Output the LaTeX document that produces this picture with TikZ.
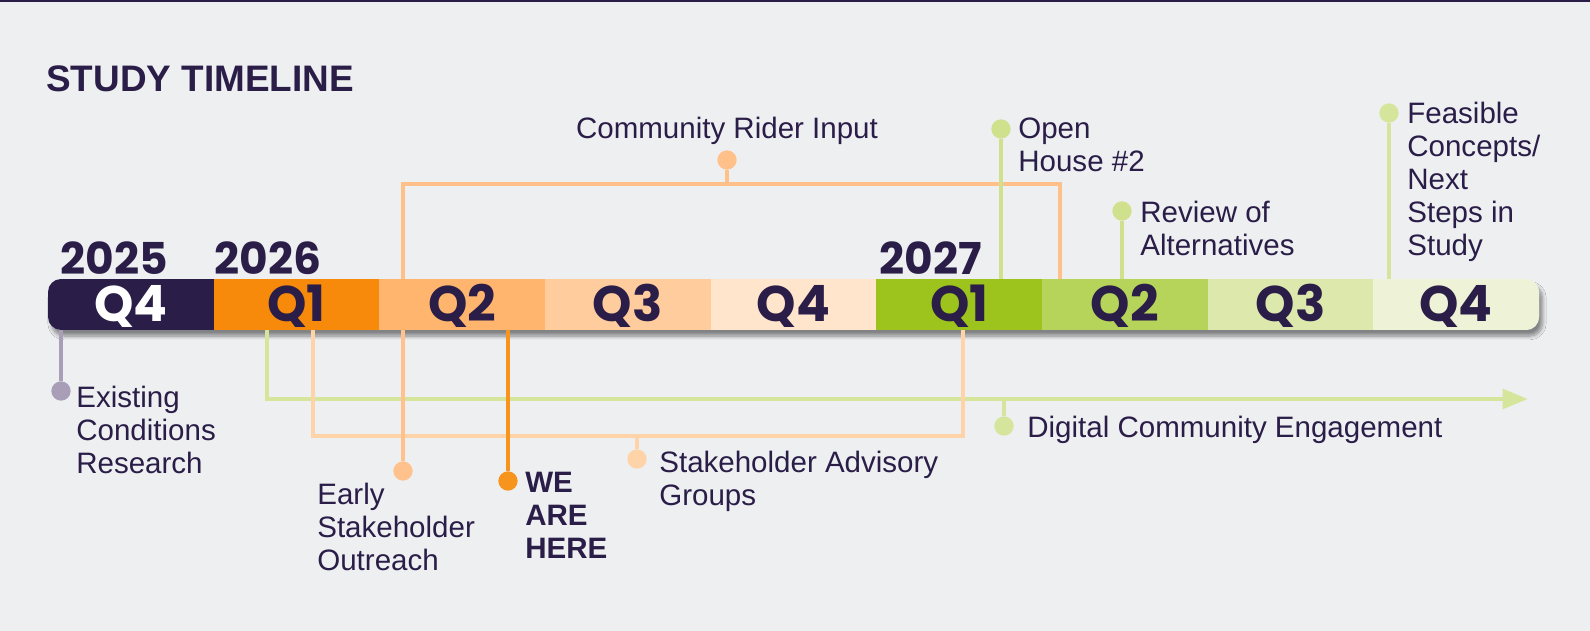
\documentclass[tikz,border=0pt]{standalone}
\usepackage{fontspec}
\setmainfont{Liberation Sans}
\newfontfamily\qfont{Poppins}
\usetikzlibrary{arrows.meta,shadows.blur}

\definecolor{bgcol}{HTML}{EEEFF1}
\definecolor{navy}{HTML}{2A1D47}
\definecolor{segA}{HTML}{2A1D47}
\definecolor{segB}{HTML}{F7890B}
\definecolor{segC}{HTML}{FFB56E}
\definecolor{segD}{HTML}{FFCC9E}
\definecolor{segE}{HTML}{FFE5CC}
\definecolor{segF}{HTML}{9CC41D}
\definecolor{segG}{HTML}{B6D35A}
\definecolor{segH}{HTML}{DDE8AD}
\definecolor{segI}{HTML}{EEF3D7}
\definecolor{exgray}{HTML}{A89EB8}
\definecolor{diggreen}{HTML}{D6E59C}
\definecolor{advorange}{HTML}{FFD3A8}
\definecolor{earlyorange}{HTML}{FFC28C}
\definecolor{hereorange}{HTML}{F7941D}
\definecolor{riderorange}{HTML}{FFC08A}
\definecolor{opengreen}{HTML}{CFE18C}

\tikzset{
  qlab/.style={font=\qfont\bfseries\fontsize{28.5}{28.5}\selectfont, text=navy, inner sep=0pt},
  yearlab/.style={font=\qfont\bfseries\fontsize{25}{25}\selectfont, text=navy, inner sep=0pt},
  lab/.style={font=\fontsize{16.8}{18.7}\selectfont, text=navy, align=left, anchor=north west, inner sep=0pt},
  dot/.style={circle, fill=#1, inner sep=0pt, minimum size=11pt},
  conn/.style={line width=2.3pt},
}

\begin{document}
\begin{tikzpicture}[x=0.02cm, y=-0.02cm]
			%%%%% START %%%%%
			
			\fill[bgcol] (0,0) rectangle (1590,631);
			\useasboundingbox (0,0) rectangle (1590,631);
			\fill[navy] (0,0) rectangle (1590,2);
			
			\node[anchor=west, font=\bfseries\fontsize{21}{21}\selectfont, text=navy, inner sep=0pt] (title) at (46,79) {STUDY TIMELINE};
			
			% bar
			\fill[bgcol, rounded corners=7.4pt, blur shadow={shadow xshift=2pt, shadow yshift=-3.5pt, shadow blur steps=8, shadow opacity=45}] (48,279) rectangle (1539,330);
			\begin{scope}
				\clip[rounded corners=7.4pt] (48,279) rectangle (1539,330);
				\foreach \i/\col in {0/segA,1/segB,2/segC,3/segD,4/segE,5/segF,6/segG,7/segH,8/segI}
					\fill[\col] ({48+\i*165.67},279) rectangle ({48+(\i+1)*165.67+0.5},330);
			\end{scope}
			\foreach \i/\lab/\tc in {0/Q4/white,1/Q1/navy,2/Q2/navy,3/Q3/navy,4/Q4/navy,5/Q1/navy,6/Q2/navy,7/Q3/navy,8/Q4/navy}
				\node[qlab, text=\tc] (seg\i) at ({48+(\i+0.5)*165.67},306) {\lab};
			
			% years
			\node[yearlab] (y2025) at (114,258) {2025};
			\node[yearlab] (y2026) at (268,258) {2026};
			\node[yearlab] (y2027) at (931,258) {2027};
			
			% below the bar
			\coordinate (ex0) at (61,330);
			\node[dot=exgray] (exdot) at (61,391) {};
			\draw[conn, exgray] (ex0) -- (exdot);
			\node[lab] (exlab) at (76,386) {Existing\\Conditions\\Research};
			
			\coordinate (dg0) at (267,330);
			\coordinate (dgend) at (1528,399);
			\draw[line width=2.8pt, diggreen, -{Triangle[length=14.5pt,width=11pt]}] (dg0) |- (dgend);
			\coordinate (dgtap) at (1004,399);
			\node[dot=diggreen] (dgdot) at (1004,426) {};
			\draw[conn, diggreen] (dgtap) -- (dgdot);
			\node[lab] (dglab) at (1027,416) {Digital Community Engagement};
			
			\coordinate (adv0) at (313,330);
			\coordinate (advtap) at (637,436);
			\coordinate (adv3) at (963,330);
			\draw[conn, advorange] (adv0) |- (advtap) -| (adv3);
			\node[dot=advorange] (advdot) at (637,459) {};
			\draw[conn, advorange] (advtap) -- (advdot);
			\node[lab] (advlab) at (659,451) {Stakeholder Advisory\\Groups};
			
			\coordinate (early0) at (403,330);
			\node[dot=earlyorange] (earlydot) at (403,471) {};
			\draw[conn, earlyorange] (early0) -- (earlydot);
			\node[lab] (earlylab) at (317,483) {Early\\Stakeholder\\Outreach};
			
			\coordinate (here0) at (508,330);
			\node[dot=hereorange] (heredot) at (508,481) {};
			\draw[conn, hereorange] (here0) -- (heredot);
			\node[lab, font=\bfseries\fontsize{16.8}{18.7}\selectfont] (herelab) at (525,472) {WE\\ARE\\HERE};
			
			% above the bar
			\coordinate (rider0) at (403,279);
			\coordinate (ridertap) at (727,184);
			\coordinate (rider3) at (1060,279);
			\draw[conn, riderorange] (rider0) |- (ridertap) -| (rider3);
			\node[dot=riderorange] (riderdot) at (727,160) {};
			\draw[conn, riderorange] (ridertap) -- (riderdot);
			\node[lab, anchor=north] (riderlab) at (727,117) {Community Rider Input};
			
			\coordinate (open0) at (1001,279);
			\node[dot=opengreen] (opendot) at (1001,129) {};
			\draw[conn, opengreen] (open0) -- (opendot);
			\node[lab] (openlab) at (1018,118) {Open\\House \#2};
			
			\coordinate (review0) at (1122,279);
			\node[dot=opengreen] (reviewdot) at (1122,211) {};
			\draw[conn, opengreen] (review0) -- (reviewdot);
			\node[lab] (reviewlab) at (1140,201) {Review of\\Alternatives};
			
			\coordinate (feas0) at (1389,279);
			\node[dot=diggreen] (feasdot) at (1389,113) {};
			\draw[conn, diggreen] (feas0) -- (feasdot);
			\node[lab] (feaslab) at (1407,102) {Feasible\\Concepts/\\Next\\Steps in\\Study};
			
			%%%%% END %%%%%
\end{tikzpicture}
\end{document}
